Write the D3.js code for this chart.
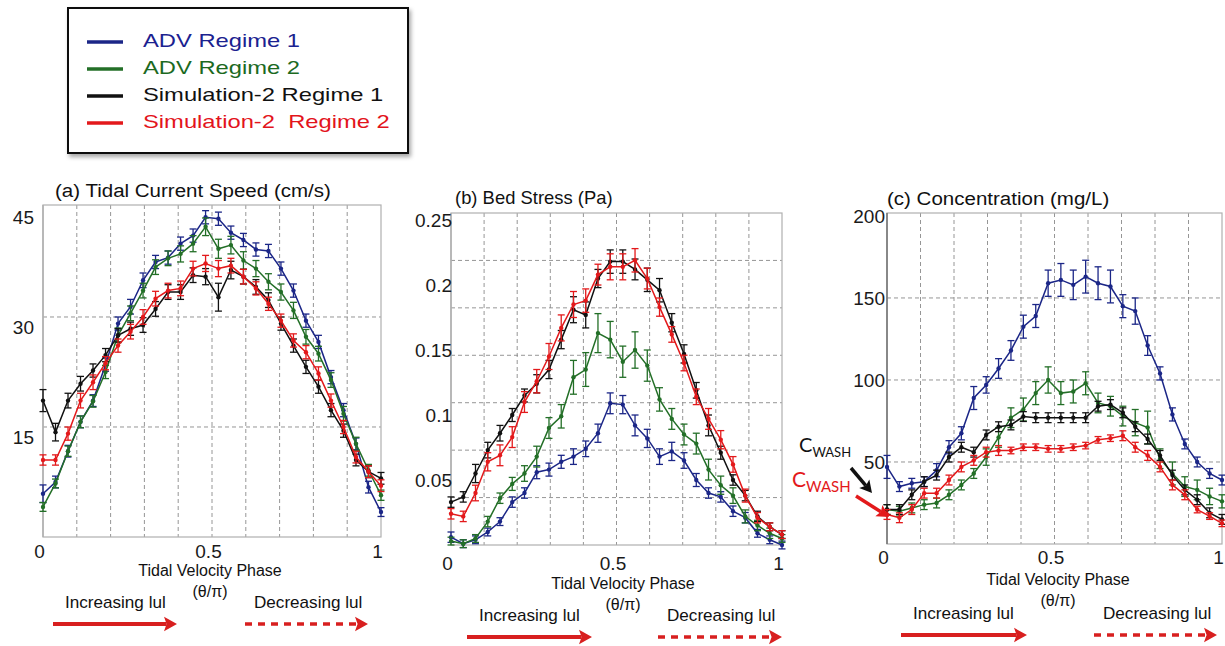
<!DOCTYPE html>
<html>
<head>
<meta charset="utf-8">
<script src="https://cdn.jsdelivr.net/npm/d3@7"></script>
<style>
	body { margin: 0; background: #fff; }
	svg { display: block; font-family: 'Liberation Sans', Arial, sans-serif; }
</style>
</head>
<body>
<svg width="1225" height="646"></svg>
<script>
// tidal velocity phase (theta/pi), 28 bins
let phase = [0, 0.037, 0.074, 0.111, 0.148, 0.185, 0.222, 0.259, 0.296, 0.333, 0.370, 0.407, 0.444, 0.481,
	0.519, 0.556, 0.593, 0.630, 0.667, 0.704, 0.741, 0.778, 0.815, 0.852, 0.889, 0.926, 0.963, 1.0];

let seriesNames = ['ADV Regime 1', 'ADV Regime 2', 'Simulation-2 Regime 1', 'Simulation-2  Regime 2'];
let seriesColors = ['#1b2687', '#236f27', '#111111', '#e3191b'];
let legendTextColors = ['#1b2290', '#1c6a1f', '#111111', '#e3141c'];

// (a) tidal current speed, cm/s
let speedAdv1 = [5.9, 7.5, 11.7, 15.7, 18.6, 23.5, 29.1, 31.4, 35.0, 37.5, 38.1, 40.0, 41.1, 43.6, 43.4, 41.5, 40.5, 39.2, 39.0, 36.6, 33.6, 29.5, 26.6, 21.8, 17.3, 12.7, 6.8, 3.4];
let speedAdv2 = [4.1, 7.3, 11.7, 15.7, 18.5, 22.5, 27.5, 30.5, 33.6, 36.8, 38.0, 38.6, 40.0, 42.3, 39.3, 39.8, 37.7, 36.6, 34.8, 33.4, 30.9, 27.3, 25.0, 21.4, 16.8, 12.7, 9.1, 5.7];
let speedSim1 = [18.6, 14.3, 18.6, 20.9, 22.7, 24.8, 27.5, 28.4, 28.9, 31.1, 33.4, 33.4, 35.7, 35.5, 32.7, 36.4, 35.5, 34.1, 32.3, 29.1, 26.1, 23.2, 20.5, 17.3, 14.5, 10.5, 8.9, 8.0];
let speedSim2 = [10.5, 10.5, 14.1, 18.6, 21.1, 23.7, 26.1, 28.0, 30.0, 32.5, 33.6, 33.9, 36.6, 37.3, 36.6, 37.0, 35.5, 33.9, 31.8, 29.5, 26.8, 25.2, 22.3, 18.6, 15.0, 10.9, 8.9, 7.0];
let speedErrAdv1 = [1.2, 0.8, 0.8, 0.8, 0.8, 0.9, 0.9, 1.0, 1.0, 0.9, 0.9, 0.9, 0.9, 0.9, 0.9, 0.9, 0.9, 0.9, 0.9, 0.9, 0.9, 0.9, 0.9, 0.9, 0.9, 0.8, 0.8, 0.6];
let speedErrAdv2 = [0.6, 0.6, 0.7, 0.8, 0.8, 0.9, 1.0, 1.0, 1.0, 1.0, 1.0, 1.1, 1.1, 1.2, 1.3, 1.2, 1.2, 1.1, 1.1, 1.1, 1.1, 1.0, 1.0, 1.0, 1.0, 0.9, 0.8, 0.7];
let speedErrSim1 = [1.5, 1.2, 1.0, 1.0, 0.9, 0.9, 0.9, 0.9, 1.0, 1.0, 1.0, 1.0, 1.0, 1.1, 1.9, 1.2, 1.0, 1.0, 1.0, 0.9, 0.9, 0.9, 0.9, 0.9, 0.9, 0.8, 0.8, 0.8];
let speedErrSim2 = [0.7, 0.7, 0.9, 1.0, 1.0, 0.9, 0.9, 1.0, 1.0, 1.0, 1.0, 1.0, 1.0, 1.1, 1.1, 1.0, 1.0, 0.9, 0.9, 0.9, 0.9, 0.9, 0.9, 0.9, 0.9, 0.8, 0.8, 0.8];

// (b) bed stress, Pa
let stressAdv1 = [0.006, 0.001, 0.004, 0.010, 0.018, 0.033, 0.040, 0.056, 0.058, 0.064, 0.068, 0.074, 0.086, 0.109, 0.108, 0.092, 0.082, 0.068, 0.072, 0.065, 0.050, 0.040, 0.037, 0.026, 0.021, 0.009, 0.004, 0.000];
let stressAdv2 = [0.003, 0.001, 0.005, 0.018, 0.036, 0.047, 0.055, 0.068, 0.090, 0.099, 0.129, 0.135, 0.163, 0.158, 0.141, 0.150, 0.138, 0.112, 0.097, 0.085, 0.078, 0.058, 0.046, 0.038, 0.022, 0.015, 0.009, 0.005];
let stressSim1 = [0.033, 0.037, 0.055, 0.073, 0.086, 0.100, 0.115, 0.124, 0.135, 0.158, 0.181, 0.177, 0.205, 0.218, 0.218, 0.212, 0.204, 0.196, 0.171, 0.147, 0.119, 0.092, 0.071, 0.050, 0.038, 0.022, 0.014, 0.008];
let stressSim2 = [0.024, 0.022, 0.040, 0.064, 0.069, 0.083, 0.110, 0.126, 0.145, 0.167, 0.185, 0.188, 0.208, 0.214, 0.214, 0.219, 0.205, 0.183, 0.162, 0.140, 0.114, 0.097, 0.081, 0.062, 0.038, 0.021, 0.014, 0.008];
let stressErrAdv1 = [0.004, 0.003, 0.003, 0.003, 0.003, 0.004, 0.004, 0.005, 0.005, 0.005, 0.006, 0.006, 0.007, 0.008, 0.007, 0.008, 0.007, 0.006, 0.007, 0.006, 0.005, 0.004, 0.004, 0.004, 0.004, 0.003, 0.003, 0.003];
let stressErrAdv2 = [0.003, 0.003, 0.003, 0.004, 0.004, 0.005, 0.006, 0.008, 0.008, 0.009, 0.013, 0.013, 0.015, 0.014, 0.012, 0.014, 0.012, 0.009, 0.008, 0.008, 0.008, 0.008, 0.007, 0.006, 0.005, 0.004, 0.004, 0.003];
let stressErrSim1 = [0.004, 0.004, 0.007, 0.006, 0.006, 0.005, 0.005, 0.007, 0.007, 0.007, 0.010, 0.010, 0.007, 0.009, 0.009, 0.008, 0.009, 0.009, 0.007, 0.007, 0.006, 0.008, 0.005, 0.004, 0.004, 0.004, 0.003, 0.003];
let stressErrSim2 = [0.004, 0.004, 0.006, 0.007, 0.008, 0.008, 0.008, 0.009, 0.010, 0.010, 0.010, 0.009, 0.008, 0.010, 0.010, 0.009, 0.008, 0.007, 0.006, 0.006, 0.006, 0.008, 0.007, 0.006, 0.005, 0.004, 0.003, 0.003];

// (c) concentration, mg/L
let concAdv1 = [47, 35, 37, 38, 45, 59, 67.5, 89, 97, 107, 118, 132.5, 139, 159, 161, 158, 163, 159, 157, 145, 142, 121, 104, 79, 61, 50, 43, 39];
let concAdv2 = [21, 20, 22, 24, 25, 30, 36, 43, 53, 65, 77, 82, 92, 100, 92, 93, 98, 86, 84, 78, 74, 71, 52, 43, 35, 33, 29, 26];
let concSim1 = [21, 21, 30, 38, 42, 53, 59, 56, 66.5, 71.5, 72.6, 77.7, 77, 77, 77, 77, 77, 84, 85, 80, 71.5, 64, 54, 42, 33, 27, 19, 15];
let concSim2 = [18, 16, 21, 31, 31, 39, 47, 51, 56, 57, 57, 59, 59, 58, 58, 59, 60, 63.5, 64.5, 66, 59, 54, 47, 36, 30, 21, 17, 12.6];
let concErrAdv1 = [7, 3, 3, 3, 4, 4, 4, 7, 5, 6, 6, 7, 7, 8, 10, 9, 10, 10, 10, 7, 8, 6, 4, 4, 3, 3, 3, 3];
let concErrAdv2 = [3, 3, 3, 3, 3, 3, 3, 3, 5, 6, 6, 7, 7, 8, 7, 7, 7, 6, 6, 6, 8, 10, 6, 7, 6, 6, 5, 4];
let concErrSim1 = [3, 3, 3, 3, 3, 3, 3, 3, 3, 3, 3, 3, 3, 3, 3, 3, 3, 3, 3, 3, 3, 3, 3, 3, 3, 3, 3, 3];
let concErrSim2 = [3, 3, 3, 3, 3, 3, 3, 3, 3, 3, 2, 2, 2, 2, 2, 2, 2, 2, 2, 3, 3, 3, 3, 3, 3, 2, 2, 2];

let gridPhase = [0.1, 0.2, 0.3, 0.4, 0.5, 0.6, 0.7, 0.8, 0.9];
let xTicks = [0, 0.5, 1];

let svg = d3.select('svg');

// shadow for the legend box
svg.append('defs')
	.append('filter')
	.attr('id', 'shadow')
	.append('feDropShadow')
	.attr('dx', 2).attr('dy', 3).attr('stdDeviation', 2)
	.attr('flood-color', '#000').attr('flood-opacity', 0.35);

function addText(g, x, y, str, size, color, sx, anchor) {
	return g.append('text')
		.attr('transform', 'translate(' + x + ',' + y + ') scale(' + (sx || 1) + ',1)')
		.attr('text-anchor', anchor || 'start')
		.attr('dominant-baseline', 'middle')
		.style('font-size', size + 'px')
		.style('fill', color || '#111')
		.style('white-space', 'pre')
		.text(str);
}

function drawArrow(g, x1, y1, x2, y2, color, width, dashed, head) {
	let ang = Math.atan2(y2 - y1, x2 - x1);
	let hl = head || 13, hw = hl * 0.55;
	let bx = x2 - Math.cos(ang) * hl * 0.8, by = y2 - Math.sin(ang) * hl * 0.8;
	g.append('line')
		.attr('x1', x1).attr('y1', y1).attr('x2', bx).attr('y2', by)
		.attr('stroke', color).attr('stroke-width', width)
		.attr('stroke-dasharray', dashed ? '7,6' : null);
	let px = -Math.sin(ang), py = Math.cos(ang);
	let cx = x2 - Math.cos(ang) * hl, cy = y2 - Math.sin(ang) * hl;
	g.append('path')
		.attr('d', 'M' + (cx + px * hw) + ',' + (cy + py * hw) + 'L' + x2 + ',' + y2 +
			'L' + (cx - px * hw) + ',' + (cy - py * hw) + 'L' + bx + ',' + by + 'Z')
		.attr('fill', color);
}

function drawPanel(p) {
	let x = d3.scaleLinear().domain([0, 1]).range([p.left, p.right]);
	let y = d3.scaleLinear().domain([0, p.yMax]).range([p.bottom, p.top]);
	let g = svg.append('g').attr('class', 'panel');

	// dashed grid
	g.append('g').selectAll('line')
		.data(gridPhase)
		.enter().append('line')
		.attr('x1', d => x(d)).attr('x2', d => x(d))
		.attr('y1', p.top).attr('y2', p.bottom)
		.attr('stroke', '#8a8a8a').attr('stroke-width', 0.9)
		.attr('stroke-dasharray', '4,3');
	g.append('g').selectAll('line')
		.data(p.yGrid)
		.enter().append('line')
		.attr('x1', p.left).attr('x2', p.right)
		.attr('y1', d => y(d)).attr('y2', d => y(d))
		.attr('stroke', '#8a8a8a').attr('stroke-width', 0.9)
		.attr('stroke-dasharray', '4,3');

	// frame
	g.append('rect')
		.attr('x', p.left).attr('y', p.top)
		.attr('width', p.right - p.left).attr('height', p.bottom - p.top)
		.attr('fill', 'none').attr('stroke', '#b0b0b0').attr('stroke-width', 1.2);
	g.append('line')
		.attr('x1', p.left).attr('x2', p.left).attr('y1', p.top).attr('y2', p.bottom)
		.attr('stroke', p.leftColor).attr('stroke-width', 1.5);

	// series: line, error bars, dots
	p.series.forEach(function(s, k) {
		let col = seriesColors[k];
		let pts = phase.map((ph, i) => ({ ph: ph, v: s[0][i], e: s[1][i] }));
		let sg = g.append('g').attr('class', 'series');
		sg.append('path')
			.datum(pts)
			.attr('d', d3.line().x(d => x(d.ph)).y(d => y(d.v)))
			.attr('fill', 'none').attr('stroke', col).attr('stroke-width', 1.5);
		let eb = sg.selectAll('.eb').data(pts).enter().append('g').attr('class', 'eb');
		eb.append('line')
			.attr('x1', d => x(d.ph)).attr('x2', d => x(d.ph))
			.attr('y1', d => y(d.v - d.e)).attr('y2', d => y(d.v + d.e));
		eb.append('line')
			.attr('x1', d => x(d.ph) - 3.5).attr('x2', d => x(d.ph) + 3.5)
			.attr('y1', d => y(d.v + d.e)).attr('y2', d => y(d.v + d.e));
		eb.append('line')
			.attr('x1', d => x(d.ph) - 3.5).attr('x2', d => x(d.ph) + 3.5)
			.attr('y1', d => y(d.v - d.e)).attr('y2', d => y(d.v - d.e));
		eb.selectAll('line').attr('stroke', col).attr('stroke-width', 1.3);
		sg.selectAll('circle').data(pts).enter().append('circle')
			.attr('cx', d => x(d.ph)).attr('cy', d => y(d.v))
			.attr('r', 2.2).attr('fill', col);
	});

	// y tick labels
	let ya = g.append('g')
		.attr('transform', 'translate(' + p.left + ',0)')
		.call(d3.axisLeft(y).tickValues(p.yTicks).tickSize(0).tickPadding(p.yPad).tickFormat(p.yFormat));
	ya.select('.domain').remove();
	ya.selectAll('text')
		.attr('dy', p.yDy)
		.style('font-size', '19px').style('font-family', 'Liberation Sans, Arial, sans-serif').style('fill', '#1a1a1a');

	// x tick labels
	let xa = g.append('g')
		.attr('transform', 'translate(-4,' + p.xLabelY + ')')
		.call(d3.axisBottom(x).tickValues(xTicks).tickSize(0).tickFormat(d3.format('')));
	xa.select('.domain').remove();
	xa.selectAll('text')
		.attr('y', 0).attr('dy', '0.35em')
		.style('font-size', '19px').style('font-family', 'Liberation Sans, Arial, sans-serif').style('fill', '#1a1a1a');

	// texts and the direction arrows
	addText(g, p.title[1], p.title[2], p.title[0], 19, '#111', p.title[3]);
	addText(g, p.xTitle[0], p.xTitle[1], 'Tidal Velocity Phase', 16, '#111', 1, 'middle');
	addText(g, p.xTitle[0], p.xTitle[1] + 21, '(\u03b8/\u03c0)', 16, '#111', 1, 'middle');
	addText(g, p.inc[0], p.inc[2] - 20, 'Increasing lul', 16, '#111', 1.07);
	addText(g, p.dec[0], p.dec[2] - 20, 'Decreasing lul', 16, '#111', 1.07);
	drawArrow(g, p.inc[0] - 12, p.inc[2], p.inc[1], p.inc[2], '#d81f1f', 4, false);
	drawArrow(g, p.dec[0] - 9, p.dec[2], p.dec[1], p.dec[2], '#d81f1f', 3.5, true);
}

drawPanel({
	left: 43, right: 381, top: 205, bottom: 537, yMax: 45.27,
	yGrid: [15, 30], yTicks: [15, 30, 45], yFormat: d3.format(''), yPad: 9, yDy: '0.85em',
	leftColor: '#b0b0b0', xLabelY: 551,
	title: ['(a) Tidal Current Speed (cm/s)', 55, 192, 1.08],
	xTitle: [210, 572],
	inc: [65, 177, 624], dec: [254, 368, 624],
	series: [[speedAdv1, speedErrAdv1], [speedAdv2, speedErrAdv2], [speedSim1, speedErrSim1], [speedSim2, speedErrSim2]]
});

drawPanel({
	left: 451, right: 782, top: 213, bottom: 545, yMax: 0.2554,
	yGrid: [1, 2, 3, 4, 5, 6].map(k => 0.2554 * k / 7), yTicks: [0.05, 0.1, 0.15, 0.2, 0.25],
	yFormat: d3.format(''), yPad: -1, yDy: '0.32em',
	leftColor: '#b0b0b0', xLabelY: 563,
	title: ['(b) Bed Stress (Pa)', 455, 199, 0.97],
	xTitle: [623, 585],
	inc: [479, 592, 637], dec: [667, 782, 637],
	series: [[stressAdv1, stressErrAdv1], [stressAdv2, stressErrAdv2], [stressSim1, stressErrSim1], [stressSim2, stressErrSim2]]
});

drawPanel({
	left: 887, right: 1222, top: 213, bottom: 544, yMax: 201.8,
	yGrid: [50, 100, 150], yTicks: [50, 100, 150, 200], yFormat: d3.format(''), yPad: 2, yDy: '0.35em',
	leftColor: '#707070', xLabelY: 557,
	title: ['(c) Concentration (mg/L)', 887, 200, 1.08],
	xTitle: [1058, 581],
	inc: [913, 1027, 635], dec: [1103, 1217, 635],
	series: [[concAdv1, concErrAdv1], [concAdv2, concErrAdv2], [concSim1, concErrSim1], [concSim2, concErrSim2]]
});

// C_WASH markers in panel (c)
let ann = svg.append('g').style('font-family', 'Lato, "Open Sans", sans-serif');
let t1 = ann.append('text').attr('x', 799).attr('y', 452).style('fill', '#111').style('font-size', '20px');
t1.append('tspan').text('C');
t1.append('tspan').attr('dy', 5).style('font-size', '13px').text('WASH');
drawArrow(ann, 851, 468, 872, 493, '#111', 3.5, false, 12);
let t2 = ann.append('text').attr('x', 792).attr('y', 487).style('fill', '#e3191b').style('font-size', '21px');
t2.append('tspan').text('C');
t2.append('tspan').attr('dy', 5).style('font-size', '15px').text('WASH');
drawArrow(ann, 856, 496, 889, 517, '#e3191b', 3.5, false, 12);

// legend
let legend = svg.append('g').attr('class', 'legend');
legend.append('rect')
	.attr('x', 68).attr('y', 8).attr('width', 340).attr('height', 145)
	.attr('fill', '#fff').attr('stroke', '#111').attr('stroke-width', 2)
	.attr('filter', 'url(#shadow)');
let legendY = d3.scalePoint().domain(seriesNames).range([42, 123]);
seriesNames.forEach(function(name, k) {
	legend.append('line')
		.attr('x1', 87).attr('x2', 123)
		.attr('y1', legendY(name)).attr('y2', legendY(name))
		.attr('stroke', seriesColors[k]).attr('stroke-width', 3.5);
	addText(legend, 143, legendY(name), name, 19, legendTextColors[k], 1.25);
});
</script>
</body>
</html>
